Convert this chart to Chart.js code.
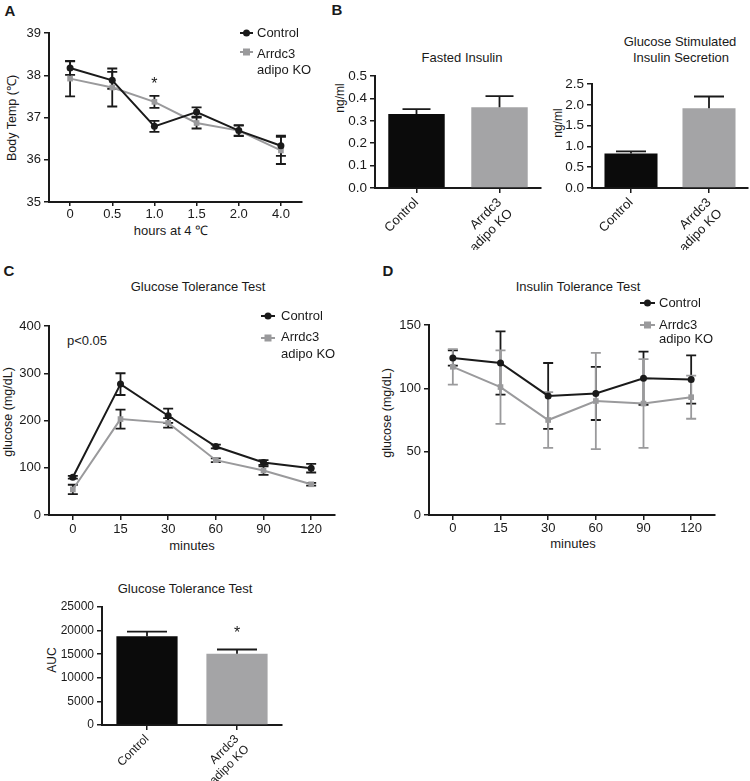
<!DOCTYPE html>
<html>
<head>
<meta charset="utf-8">
<script src="https://cdn.jsdelivr.net/npm/chart.js@4.4.1/dist/chart.umd.min.js"></script>
<style>
body{margin:0;background:#fff;width:750px;height:781px;position:relative;overflow:hidden;font-family:"Liberation Sans",Arial,sans-serif;color:#1a1a1a}
canvas{position:absolute}
.t{position:absolute;white-space:nowrap;font-size:13px;line-height:15px;transform:translate(-50%,-50%)}
.v{transform:translate(-50%,-50%) rotate(-90deg);font-size:12.5px}
.p{font-weight:bold;font-size:15px}
</style>
</head>
<body>
<div class="t p" style="left:10px;top:10px">A</div>
<div class="t p" style="left:337px;top:9px">B</div>
<div class="t p" style="left:9px;top:270px">C</div>
<div class="t p" style="left:388px;top:270px">D</div>

<div class="t v" style="left:12px;top:118px">Body Temp (℃)</div>
<div class="t" style="left:171px;top:230px">hours at 4 ℃</div>

<div class="t" style="left:462px;top:57px">Fasted Insulin</div>
<div class="t v" style="left:340px;top:98px;font-size:12px">ng/ml</div>
<div class="t" style="left:680px;top:41px">Glucose Stimulated</div>
<div class="t" style="left:681px;top:57px">Insulin Secretion</div>
<div class="t v" style="left:558px;top:123px;font-size:12px">ng/ml</div>

<div class="t" style="left:198px;top:286px">Glucose Tolerance Test</div>
<div class="t" style="left:87px;top:340px">p&lt;0.05</div>
<div class="t v" style="left:8px;top:412px">glucose (mg/dL)</div>
<div class="t" style="left:192px;top:545px">minutes</div>

<div class="t" style="left:578px;top:286px">Insulin Tolerance Test</div>
<div class="t v" style="left:387px;top:413px">glucose (mg/dL)</div>
<div class="t" style="left:573px;top:543px">minutes</div>

<div class="t" style="left:185px;top:588px">Glucose Tolerance Test</div>
<div class="t v" style="left:52px;top:660px;font-size:12px">AUC</div>

<script>
// COLORS
const ink = '#1a1a1a';
const koGray = '#9a9a9c';
const barGray = '#a4a4a6';

// DATA - A (body temp)
const tempHours = ['0', '0.5', '1.0', '1.5', '2.0', '4.0'];
const tempControl = [38.17, 37.88, 36.79, 37.13, 36.69, 36.33];
const tempControlErr = [0.16, 0.2, 0.13, 0.11, 0.13, 0.24];
const tempKO = [37.92, 37.71, 37.37, 36.87, 36.69, 36.22];
const tempKOErr = [0.42, 0.45, 0.14, 0.13, 0.12, 0.32];

// DATA - B (insulin)
const groups = ['Control', ['Arrdc3', 'adipo KO']];
const fastedInsulin = [0.33, 0.36];
const fastedInsulinErr = [0.022, 0.05];
const gsis = [0.83, 1.92];
const gsisErr = [0.05, 0.28];

// DATA - C (GTT)
const minutes = ['0', '15', '30', '60', '90', '120'];
const gttControl = [80, 277, 210, 145, 111, 99];
const gttControlErr = [3, 23, 15, 4, 5, 9];
const gttKO = [54, 203, 195, 116, 94, 65];
const gttKOErr = [10, 20, 10, 4, 9, 3];

// DATA - D (ITT)
const ittControl = [124, 120, 94, 96, 108, 107];
const ittControlErr = [6, 25, 26, 21, 21, 19];
const ittKO = [117, 101, 75, 90, 88, 93];
const ittKOErr = [14, 29, 22, 38, 35, 17];

// DATA - AUC
const gttAUC = [18800, 15100];
const gttAUCErr = [1000, 900];

Chart.defaults.font.family = '"Liberation Sans", Arial, sans-serif';
Chart.defaults.font.size = 13;
Chart.defaults.color = ink;

// extras (legend, stars, caps) live on the canvas, outside chart options
function extra(chart) {
    return chart.canvas.extra || {};
}

// ERROR BARS
function drawErr(chart, bars) {
    const ctx = chart.ctx;
    const ys = chart.scales.y;
    const cap = extra(chart).cap || 5;
    chart.data.datasets.forEach((ds, i) => {
        if (!ds.err) return;
        const meta = chart.getDatasetMeta(i);
        ctx.save();
        ctx.lineWidth = 1.8;
        ctx.strokeStyle = ds.errColor;
        meta.data.forEach((el, j) => {
            const v = ds.data[j], e = ds.err[j];
            const x = el.x;
            const top = ys.getPixelForValue(v + e);
            const bot = ys.getPixelForValue(bars ? v : v - e);
            ctx.beginPath();
            ctx.moveTo(x, top); ctx.lineTo(x, bot);
            ctx.moveTo(x - cap, top); ctx.lineTo(x + cap, top);
            if (!bars) { ctx.moveTo(x - cap, bot); ctx.lineTo(x + cap, bot); }
            ctx.stroke();
        });
        ctx.restore();
    });
}

const errorBars = {
    id: 'errorBars',
    beforeDatasetsDraw(chart) {
        if (chart.config.type === 'line') drawErr(chart, false);
    },
    afterDatasetsDraw(chart) {
        if (chart.config.type === 'bar') drawErr(chart, true);
    }
};

// LEGEND (line + marker)
const lineLegend = {
    id: 'lineLegend',
    afterDraw(chart) {
        const o = extra(chart).legend;
        if (!o) return;
        const ox = chart.canvas.ox, oy = chart.canvas.oy;
        const ctx = chart.ctx;
        ctx.save();
        ctx.font = o.size + 'px "Liberation Sans", Arial, sans-serif';
        ctx.textBaseline = 'middle';
        ctx.textAlign = 'left';
        o.rows.forEach(r => {
            const y = r.y - oy;
            const x0 = o.x - ox;
            ctx.strokeStyle = r.color;
            ctx.fillStyle = r.color;
            ctx.lineWidth = 2;
            ctx.beginPath();
            ctx.moveTo(x0, y); ctx.lineTo(x0 + o.len, y);
            ctx.stroke();
            const mx = x0 + o.len / 2;
            if (r.style === 'circle') {
                ctx.beginPath(); ctx.arc(mx, y, 3.5, 0, Math.PI * 2); ctx.fill();
            } else {
                ctx.fillRect(mx - 3.5, y - 3.5, 7, 7);
            }
            ctx.fillStyle = ink;
            r.lines.forEach((t, k) => ctx.fillText(t, o.tx - ox, y + k * o.gap + (r.shift || 0)));
        });
        ctx.restore();
    }
};

// STARS
const stars = {
    id: 'stars',
    afterDraw(chart) {
        const marks = extra(chart).stars;
        if (!marks) return;
        const ctx = chart.ctx;
        ctx.save();
        ctx.font = '16px "Liberation Sans", Arial, sans-serif';
        ctx.textAlign = 'center';
        ctx.textBaseline = 'middle';
        ctx.fillStyle = ink;
        marks.forEach(m => {
            const ds = chart.data.datasets[m.ds];
            const x = chart.scales.x.getPixelForValue(m.i);
            const y = chart.scales.y.getPixelForValue(ds.data[m.i] + ds.err[m.i]) - m.dy;
            ctx.fillText('*', x, y + 4);
        });
        ctx.restore();
    }
};

Chart.register(errorBars, lineLegend, stars);

// SCALES
function yScale(min, max, step, fmt, size) {
    return {
        min: min, max: max,
        ticks: { stepSize: step, color: ink, font: { size: size || 13 }, padding: 3, callback: fmt },
        grid: { drawOnChartArea: false, drawTicks: true, tickLength: 5, color: ink, lineWidth: 1.5 },
        border: { display: true, color: ink, width: 2 }
    };
}

function xScale(rotated, tl, pad, size) {
    return {
        type: 'category', offset: true,
        ticks: { color: ink, font: { size: size || 13 }, padding: pad, autoSkip: false,
                 maxRotation: rotated ? 45 : 0, minRotation: rotated ? 45 : 0 },
        grid: { offset: false, drawOnChartArea: false, drawTicks: true, tickLength: tl, color: ink, lineWidth: 1.5 },
        border: { display: true, color: ink, width: 2 }
    };
}

// box = [left, top, width, height] ; area = [left, top, right, bottom] (page px)
function build(box, area, cfg, ex) {
    const [bx, by, bw, bh] = box;
    const c = document.createElement('canvas');
    c.width = bw; c.height = bh;
    c.style.left = bx + 'px'; c.style.top = by + 'px';
    c.style.width = bw + 'px'; c.style.height = bh + 'px';
    c.extra = ex || {};
    c.ox = bx; c.oy = by;
    document.body.appendChild(c);
    const o = cfg.options;
    o.responsive = false;
    o.animation = false;
    o.devicePixelRatio = 1;
    o.layout = { padding: { left: 0, top: area[1] - by, right: bx + bw - area[2], bottom: 0 } };
    o.scales.x.afterFit = s => { s.height = by + bh - area[3]; };
    o.scales.y.afterFit = s => { s.width = area[0] - bx; };
    o.plugins = { legend: { display: false }, tooltip: { enabled: false } };
    return new Chart(c, cfg);
}

function lineSets(ctrl, ctrlErr, ko, koErr, koErrColor) {
    return [{
        data: ctrl, err: ctrlErr, errColor: ink,
        borderColor: ink, backgroundColor: ink, borderWidth: 2,
        pointStyle: 'circle', pointRadius: 3.5, pointBorderWidth: 0, tension: 0
    }, {
        data: ko, err: koErr, errColor: koErrColor,
        borderColor: koGray, backgroundColor: koGray, borderWidth: 2,
        pointStyle: 'rect', pointRadius: 4, pointBorderWidth: 0, tension: 0
    }];
}

function barSet(vals, errs) {
    return [{
        data: vals, err: errs, errColor: ink,
        backgroundColor: ['#0b0b0b', barGray], borderWidth: 0,
        barPercentage: 0.68, categoryPercentage: 1
    }];
}

// PANEL A
build([0, 0, 330, 225], [49, 33, 302, 202], {
    type: 'line',
    data: { labels: tempHours, datasets: lineSets(tempControl, tempControlErr, tempKO, tempKOErr, ink) },
    options: { scales: { x: xScale(false, 4, 1), y: yScale(35, 39, 1, v => String(v)) } }
}, {
    cap: 5,
    legend: { x: 240, len: 13, tx: 257, gap: 16, size: 13, rows: [
        { y: 33, color: ink, style: 'circle', lines: ['Control'] },
        { y: 52, color: koGray, style: 'rect', lines: ['Arrdc3', 'adipo KO'], shift: 2 }
    ] },
    stars: [{ ds: 1, i: 2, dy: 15 }]
});

// PANEL B - fasted insulin
build([330, 60, 215, 190], [375, 76, 541, 188], {
    type: 'bar',
    data: { labels: groups, datasets: barSet(fastedInsulin, fastedInsulinErr) },
    options: { scales: { x: xScale(true, 5, 2), y: yScale(0, 0.5, 0.1, v => v.toFixed(1), 13.5) } }
}, { cap: 14 });

// PANEL B - GSIS
build([545, 60, 205, 190], [592, 84, 748, 188], {
    type: 'bar',
    data: { labels: groups, datasets: barSet(gsis, gsisErr) },
    options: { scales: { x: xScale(true, 5, 2), y: yScale(0, 2.5, 0.5, v => v.toFixed(1), 13.5) } }
}, { cap: 15 });

// PANEL C
build([0, 300, 375, 240], [49, 326, 335, 515], {
    type: 'line',
    data: { labels: minutes, datasets: lineSets(gttControl, gttControlErr, gttKO, gttKOErr, ink) },
    options: { scales: { x: xScale(false, 5, 2), y: yScale(0, 400, 100, v => String(v)) } }
}, {
    cap: 5,
    legend: { x: 261, len: 14, tx: 281, gap: 17, size: 13, rows: [
        { y: 316, color: ink, style: 'circle', lines: ['Control'] },
        { y: 338, color: koGray, style: 'rect', lines: ['Arrdc3', 'adipo KO'], shift: -1 }
    ] }
});

// PANEL D
build([380, 295, 370, 245], [429, 325, 715, 515], {
    type: 'line',
    data: { labels: minutes, datasets: lineSets(ittControl, ittControlErr, ittKO, ittKOErr, koGray) },
    options: { scales: { x: xScale(false, 5, 1), y: yScale(0, 150, 50, v => String(v)) } }
}, {
    cap: 5,
    legend: { x: 640, len: 15, tx: 659, gap: 14, size: 13, rows: [
        { y: 303, color: ink, style: 'circle', lines: ['Control'] },
        { y: 325, color: koGray, style: 'rect', lines: ['Arrdc3', 'adipo KO'] }
    ] }
});

// AUC
build([0, 595, 300, 186], [102, 607, 282, 725], {
    type: 'bar',
    data: { labels: groups, datasets: barSet(gttAUC, gttAUCErr) },
    options: { scales: { x: xScale(true, 5, 2, 12), y: yScale(0, 25000, 5000, v => String(v), 12) } }
}, { cap: 20, stars: [{ ds: 0, i: 1, dy: 20 }] });
</script>
</body>
</html>
